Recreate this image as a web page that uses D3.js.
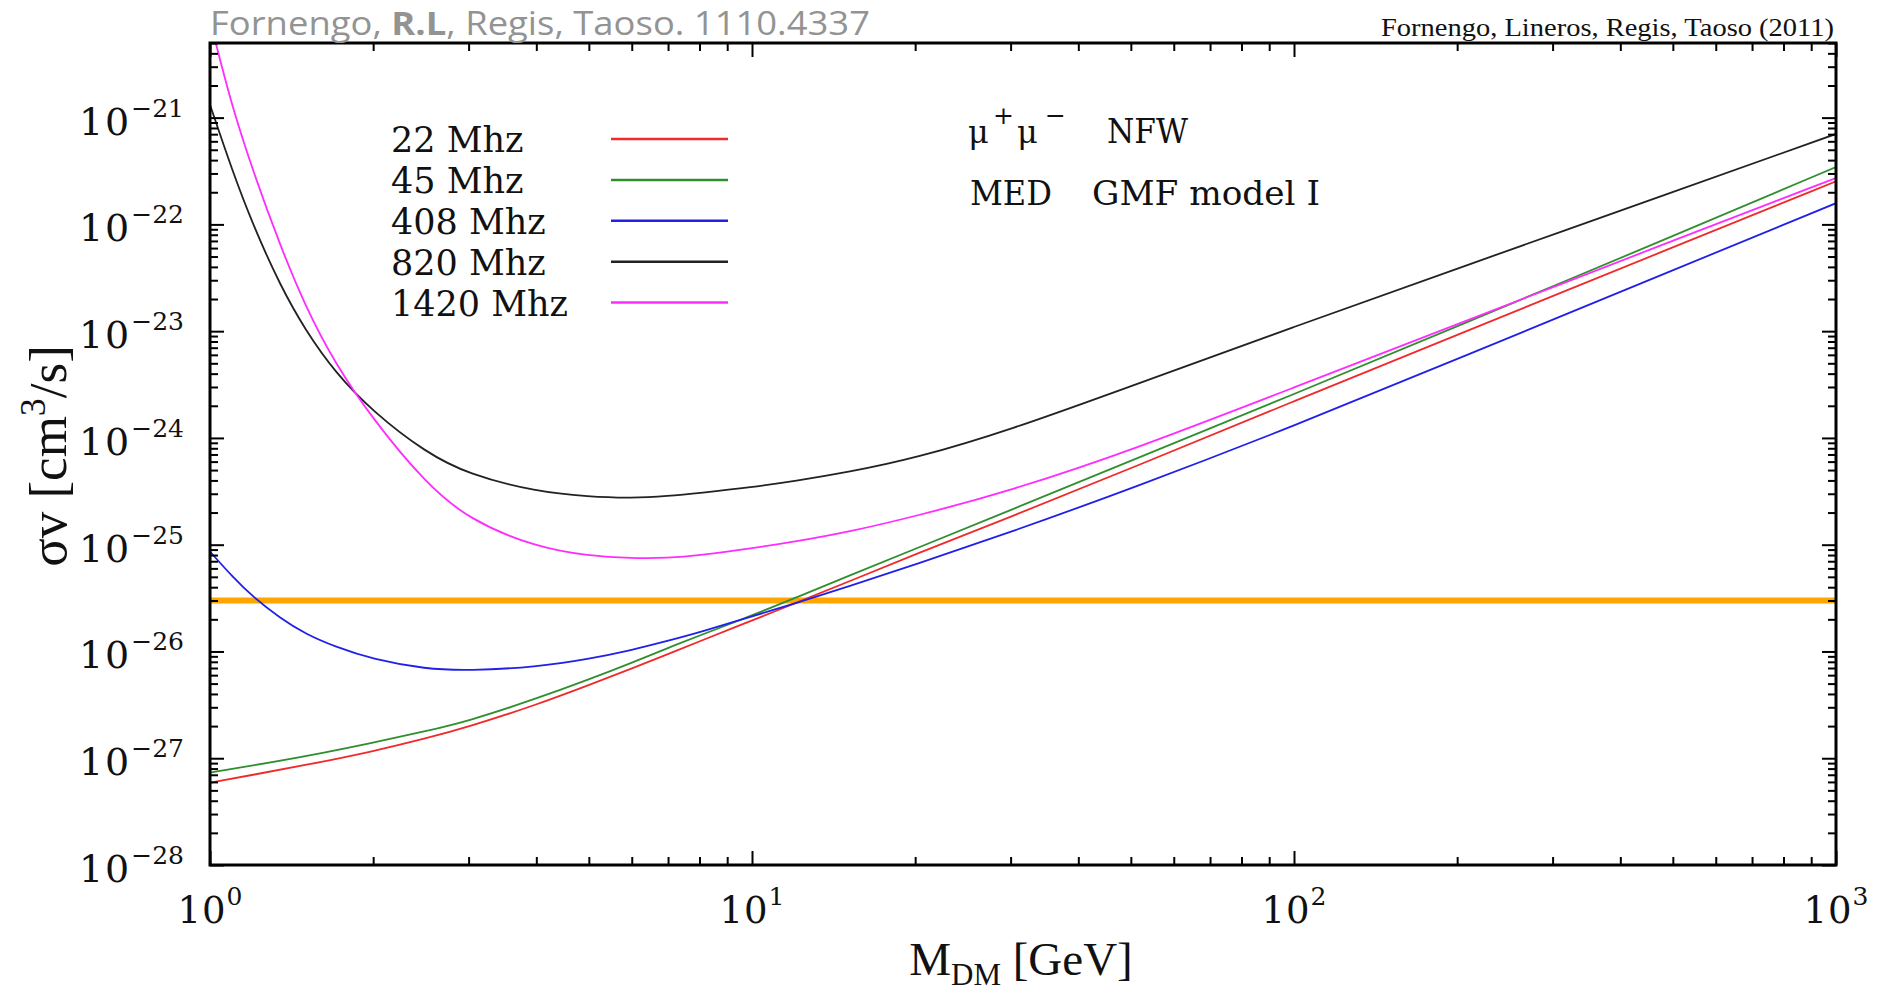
<!DOCTYPE html>
<html><head><meta charset="utf-8">
<script src="https://cdn.jsdelivr.net/npm/d3@7"></script>
<style>html,body{margin:0;padding:0;background:#fff;} svg{display:block}</style>
</head><body>
<svg id="chart" width="1886" height="994"></svg>
<script>
// ---------- data ----------
const xTickValues = [1, 10, 100, 1000];
const xTickExps = ["0", "1", "2", "3"];
const yTickValues = [1e-28, 1e-27, 1e-26, 1e-25, 1e-24, 1e-23, 1e-22, 1e-21];
const yTickExps = ["\u221228", "\u221227", "\u221226", "\u221225", "\u221224", "\u221223", "\u221222", "\u221221"];

const seriesNames = ["22 Mhz", "45 Mhz", "408 Mhz", "820 Mhz", "1420 Mhz"];
const seriesColors = ["#f02a2a", "#2f8f2f", "#2020e8", "#222222", "#ff2cff"];

const mass22 = [1, 1.2, 1.5, 2, 2.5, 3, 4, 5, 6, 7, 8, 10, 12, 15, 20, 30, 50, 100, 200, 500, 1000];
const sv22 = [5.89e-28, 7.0e-28, 8.61e-28, 1.16e-27, 1.53e-27, 1.97e-27, 3.16e-27, 4.84e-27, 6.92e-27, 9.44e-27, 1.245e-26, 1.95e-26, 2.82e-26, 4.47e-26, 8.13e-26, 1.82e-25, 5.19e-25, 2.21e-24, 9.23e-24, 6.1e-23, 2.53e-22];

const mass45 = [1, 1.2, 1.5, 2, 2.5, 3, 4, 5, 6, 7, 8, 10, 12, 15, 20, 30, 50, 100, 200, 500, 1000];
const sv45 = [7.33e-28, 8.57e-28, 1.04e-27, 1.40e-27, 1.79e-27, 2.23e-27, 3.61e-27, 5.47e-27, 7.83e-27, 1.08e-26, 1.41e-26, 2.17e-26, 3.17e-26, 5.04e-26, 9.14e-26, 2.11e-25, 6.10e-25, 2.57e-24, 1.11e-23, 7.76e-23, 3.45e-22];

const mass408 = [1, 1.1, 1.2, 1.35, 1.5, 1.7, 2, 2.5, 3, 4, 5, 6, 7, 8, 10, 12, 15, 20, 30, 50, 100, 200, 500, 1000];
const sv408 = [8.63e-26, 5.01e-26, 3.24e-26, 2.04e-26, 1.46e-26, 1.11e-26, 8.41e-27, 6.84e-27, 6.61e-27, 7.14e-27, 8.51e-27, 1.03e-26, 1.26e-26, 1.51e-26, 2.13e-26, 2.82e-26, 4.03e-26, 6.53e-26, 1.31e-25, 3.34e-25, 1.29e-24, 5.48e-24, 3.72e-23, 1.58e-22];

const mass820 = [1, 1.1, 1.2, 1.35, 1.5, 1.7, 2, 2.5, 3, 4, 5, 6, 7, 8, 10, 12, 15, 20, 30, 50, 100, 200, 500, 1000];
const sv820 = [1.32e-21, 3.15e-22, 9.9e-23, 2.62e-23, 1.02e-23, 4.13e-24, 1.75e-24, 7.31e-25, 4.55e-25, 3.13e-25, 2.81e-25, 2.72e-25, 2.85e-25, 3.05e-25, 3.46e-25, 3.94e-25, 4.76e-25, 6.43e-25, 1.19e-24, 3.05e-24, 1.10e-23, 3.85e-23, 2.01e-22, 7.03e-22];

const mass1420 = [1, 1.05, 1.1, 1.2, 1.35, 1.5, 1.7, 2, 2.5, 3, 4, 5, 6, 7, 8, 10, 12, 15, 20, 30, 50, 100, 200, 500, 1000];
const sv1420 = [8.13e-21, 3.09e-21, 1.26e-21, 3.16e-22, 6.17e-23, 1.70e-23, 5.01e-24, 1.48e-24, 3.76e-25, 1.72e-25, 9.44e-26, 7.85e-26, 7.45e-26, 7.50e-26, 7.94e-26, 9.23e-26, 1.07e-25, 1.31e-25, 1.84e-25, 3.21e-25, 7.59e-25, 2.97e-24, 1.16e-23, 7.03e-23, 2.72e-22];

const thermalValue = 3e-26;
const thermalColor = "#ffa500";

const seriesMasses = [mass22, mass45, mass408, mass820, mass1420];
const seriesValues = [sv22, sv45, sv408, sv820, sv1420];

// ---------- layout ----------
const L = 210, R = 1836, T = 43, B = 865;
const svg = d3.select("#chart");
const x = d3.scaleLog().domain([1, 1000]).range([L, R]);
const y = d3.scaleLog().domain([1e-28, 5e-21]).range([B, T]);

const serif = "'DejaVu Serif', serif";
const times = "'Liberation Serif', 'Times New Roman', serif";

svg.append("rect").attr("width", 1886).attr("height", 994).attr("fill", "#ffffff");

svg.append("defs").append("clipPath").attr("id", "clip")
  .append("rect").attr("x", L).attr("y", T).attr("width", R - L).attr("height", B - T);

// thermal line
svg.append("line")
  .attr("x1", x(1)).attr("x2", x(1000))
  .attr("y1", y(thermalValue)).attr("y2", y(thermalValue))
  .attr("stroke", thermalColor).attr("stroke-width", 6);

// curves
const lineGen = d3.line()
  .x(d => x(d[0])).y(d => y(d[1]))
  .curve(d3.curveBasis);
const gCurves = svg.append("g").attr("clip-path", "url(#clip)");
seriesNames.forEach((name, i) => {
  const pts = seriesMasses[i].map((m, j) => [m, seriesValues[i][j]]);
  gCurves.append("path").attr("d", lineGen(pts))
    .attr("fill", "none").attr("stroke", seriesColors[i]).attr("stroke-width", 1.8);
});

// ticks
function minorTicks(scale) {
  return scale.ticks().filter(v => {
    const e = Math.log10(v);
    return Math.abs(e - Math.round(e)) > 1e-6;
  });
}
const xMinor = minorTicks(x), yMinor = minorTicks(y);

function drawAxis(axisFn, scale, transform, vals, size) {
  const g = svg.append("g").attr("transform", transform)
    .call(axisFn(scale).tickValues(vals).tickSize(-size).tickFormat(""));
  g.select(".domain").remove();
  g.selectAll(".tick line").attr("stroke", "#000").attr("stroke-width", 2);
}
drawAxis(d3.axisBottom, x, `translate(0,${B})`, xMinor, 8);
drawAxis(d3.axisBottom, x, `translate(0,${B})`, xTickValues, 14);
drawAxis(d3.axisTop, x, `translate(0,${T})`, xMinor, 8);
drawAxis(d3.axisTop, x, `translate(0,${T})`, xTickValues, 14);
drawAxis(d3.axisLeft, y, `translate(${L},0)`, yMinor, 8);
drawAxis(d3.axisLeft, y, `translate(${L},0)`, yTickValues, 14);
drawAxis(d3.axisRight, y, `translate(${R},0)`, yMinor, 8);
drawAxis(d3.axisRight, y, `translate(${R},0)`, yTickValues, 14);

// frame
svg.append("rect").attr("x", L).attr("y", T).attr("width", R - L).attr("height", B - T)
  .attr("fill", "none").attr("stroke", "#000").attr("stroke-width", 3);

// tick labels
xTickValues.forEach((v, i) => {
  const t = svg.append("text").attr("x", x(v)).attr("y", B + 58)
    .attr("text-anchor", "middle").attr("font-family", serif).attr("font-size", 37).attr("fill", "#111");
  t.append("tspan").attr("letter-spacing", 1).text("10");
  t.append("tspan").attr("dy", -18).attr("font-size", 25).text(xTickExps[i]);
});
yTickValues.forEach((v, i) => {
  const t = svg.append("text").attr("x", 184).attr("y", y(v) + 17)
    .attr("text-anchor", "end").attr("font-family", serif).attr("font-size", 38).attr("fill", "#111");
  t.append("tspan").attr("letter-spacing", 2).text("10");
  t.append("tspan").attr("dy", -18).attr("font-size", 25).text(yTickExps[i]);
});

// axis titles
const xt = svg.append("text").attr("x", 1021).attr("y", 975).attr("text-anchor", "middle")
  .attr("font-family", times).attr("font-size", 47).attr("fill", "#111");
xt.append("tspan").text("M");
xt.append("tspan").attr("dy", 10).attr("font-size", 31).text("DM");
xt.append("tspan").attr("dy", -10).text(" [GeV]");

const yt = svg.append("text").attr("transform", "translate(66,456) rotate(-90)")
  .attr("text-anchor", "middle").attr("font-family", times).attr("font-size", 53).attr("fill", "#111");
yt.append("tspan").text("\u03c3v [cm");
yt.append("tspan").attr("dy", -21).attr("font-size", 36).text("3");
yt.append("tspan").attr("dy", 21).text("/s]");

// legend
seriesNames.forEach((name, i) => {
  const yy = 139 + i * 40.9;
  svg.append("text").attr("x", 391).attr("y", yy + 13).attr("font-family", serif)
    .attr("font-size", 35).attr("fill", "#111").text(name);
  svg.append("line").attr("x1", 611).attr("x2", 728).attr("y1", yy).attr("y2", yy)
    .attr("stroke", seriesColors[i]).attr("stroke-width", 2.5);
});

// annotation
function txt(xp, yp, size, s) {
  return svg.append("text").attr("x", xp).attr("y", yp).attr("font-family", serif)
    .attr("font-size", size).attr("fill", "#111").text(s);
}
txt(968, 143, 32, "\u03bc");
txt(993, 124, 25, "+");
txt(1017, 143, 32, "\u03bc");
txt(1045, 124, 25, "\u2212");
txt(1107, 143, 33, "NFW").attr("textLength", 81).attr("lengthAdjust", "spacingAndGlyphs");
txt(970, 205, 33, "MED").attr("textLength", 82).attr("lengthAdjust", "spacingAndGlyphs");
txt(1092, 205, 33, "GMF model I").attr("textLength", 228).attr("lengthAdjust", "spacingAndGlyphs");

// header texts
const h = svg.append("text").attr("x", 210).attr("y", 35).attr("font-family", "'Open Sans', sans-serif")
  .attr("font-size", 32).attr("fill", "#939393")
  .attr("textLength", 660).attr("lengthAdjust", "spacingAndGlyphs");
h.append("tspan").text("Fornengo, ");
h.append("tspan").attr("font-weight", "bold").text("R.L");
h.append("tspan").text(", Regis, Taoso. 1110.4337");

svg.append("text").attr("x", 1834).attr("y", 36).attr("text-anchor", "end")
  .attr("font-family", times).attr("font-size", 25).attr("fill", "#111")
  .attr("textLength", 453).attr("lengthAdjust", "spacingAndGlyphs")
  .text("Fornengo, Lineros, Regis, Taoso (2011)");
</script>
</body></html>
